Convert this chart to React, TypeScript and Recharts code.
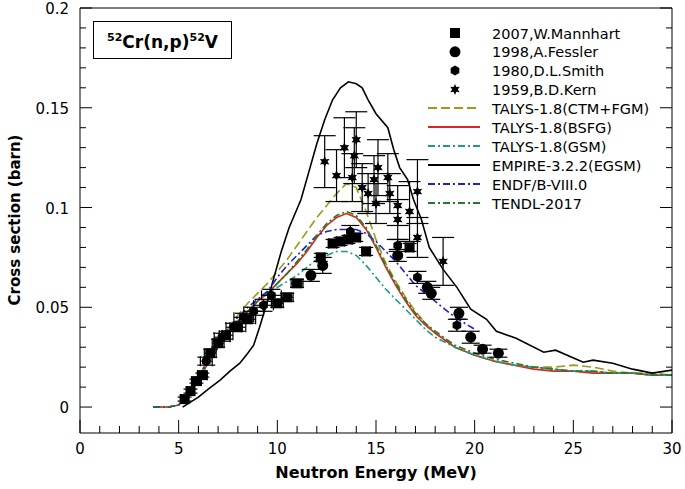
import { ComposedChart, Line, Scatter, XAxis, YAxis, ErrorBar } from "recharts";

// ---- evaluated curves ----
const ctmE = [3.7, 4.5, 5.0, 5.3, 5.6, 6.0, 6.5, 7.0, 7.5, 8.0, 8.5, 9.0, 9.5, 10.0, 10.5, 11.0, 11.5, 12.0, 12.5, 13.0, 13.5, 14.0, 14.5, 15.0, 15.5, 16.0, 16.5, 17.0, 17.5, 18.0, 19.0, 20.0, 21.0, 22.0, 23.0, 24.0, 25.0, 26.0, 27.0, 28.0, 29.0, 30.0];
const ctmXS = [0, 0, 0.001, 0.004, 0.009, 0.015, 0.024, 0.032, 0.039, 0.046, 0.052, 0.057, 0.062, 0.068, 0.074, 0.081, 0.088, 0.095, 0.101, 0.107, 0.112, 0.110, 0.098, 0.084, 0.072, 0.063, 0.055, 0.048, 0.042, 0.037, 0.030, 0.026, 0.023, 0.021, 0.020, 0.020, 0.021, 0.020, 0.018, 0.017, 0.017, 0.016];

const bsfgE = [3.7, 4.5, 5.0, 5.3, 5.6, 6.0, 6.5, 7.0, 7.5, 8.0, 8.5, 9.0, 9.5, 10.0, 10.5, 11.0, 11.5, 12.0, 12.5, 13.0, 13.5, 14.0, 14.5, 15.0, 15.5, 16.0, 16.5, 17.0, 17.5, 18.0, 19.0, 20.0, 21.0, 22.0, 23.0, 24.0, 25.0, 26.0, 27.0, 28.0, 29.0, 30.0];
const bsfgXS = [0, 0, 0.001, 0.004, 0.008, 0.014, 0.022, 0.030, 0.037, 0.043, 0.048, 0.053, 0.057, 0.062, 0.067, 0.072, 0.078, 0.085, 0.091, 0.095, 0.097, 0.095, 0.089, 0.080, 0.070, 0.061, 0.053, 0.046, 0.041, 0.037, 0.030, 0.026, 0.023, 0.021, 0.019, 0.018, 0.018, 0.017, 0.017, 0.017, 0.016, 0.016];

const gsmE = [3.7, 4.5, 5.0, 5.3, 5.6, 6.0, 6.5, 7.0, 7.5, 8.0, 8.5, 9.0, 9.5, 10.0, 10.5, 11.0, 11.5, 12.0, 12.5, 13.0, 13.5, 14.0, 14.5, 15.0, 15.5, 16.0, 16.5, 17.0, 17.5, 18.0, 19.0, 20.0, 21.0, 22.0, 23.0, 24.0, 25.0, 26.0, 27.0, 28.0, 29.0, 30.0];
const gsmXS = [0, 0, 0.001, 0.004, 0.008, 0.014, 0.022, 0.030, 0.037, 0.043, 0.048, 0.053, 0.057, 0.060, 0.063, 0.066, 0.070, 0.074, 0.076, 0.078, 0.078, 0.076, 0.071, 0.065, 0.059, 0.054, 0.049, 0.044, 0.039, 0.035, 0.030, 0.026, 0.023, 0.021, 0.020, 0.019, 0.018, 0.018, 0.017, 0.017, 0.016, 0.016];

const empireE = [5.2, 5.6, 6.0, 6.5, 7.1, 7.6, 8.1, 8.5, 8.8, 9.1, 9.5, 9.8, 10.2, 10.6, 11.2, 11.6, 12.0, 12.4, 12.8, 13.2, 13.6, 14.0, 14.3, 14.6, 15.0, 15.6, 15.9, 16.2, 16.6, 16.9, 17.3, 17.7, 18.4, 19.1, 19.8, 20.6, 21.1, 22.1, 23.5, 24.1, 25.5, 26.0, 27.0, 28.0, 29.0, 30.0];
const empireXS = [0, 0.0025, 0.005, 0.009, 0.0135, 0.018, 0.022, 0.027, 0.031, 0.040, 0.053, 0.064, 0.078, 0.090, 0.104, 0.118, 0.132, 0.144, 0.154, 0.160, 0.163, 0.162, 0.160, 0.154, 0.147, 0.140, 0.129, 0.120, 0.114, 0.104, 0.094, 0.080, 0.069, 0.060, 0.049, 0.044, 0.038, 0.0345, 0.0275, 0.0285, 0.0225, 0.0235, 0.022, 0.019, 0.017, 0.0185];

const endfE = [3.7, 4.5, 5.0, 5.3, 5.6, 6.0, 6.5, 7.0, 7.5, 8.0, 8.5, 9.0, 9.5, 10.0, 10.5, 11.0, 11.5, 12.0, 12.5, 13.0, 13.5, 14.0, 14.5, 15.0, 15.5, 16.0, 16.5, 17.0, 17.5, 18.0, 18.5, 19.0, 19.5, 20.0];
const endfXS = [0, 0, 0.001, 0.004, 0.008, 0.015, 0.024, 0.032, 0.039, 0.045, 0.050, 0.054, 0.058, 0.065, 0.071, 0.076, 0.081, 0.086, 0.088, 0.089, 0.089, 0.089, 0.087, 0.083, 0.078, 0.073, 0.067, 0.061, 0.057, 0.053, 0.049, 0.045, 0.042, 0.039];

const tendlE = [3.7, 4.5, 5.0, 5.3, 5.6, 6.0, 6.5, 7.0, 7.5, 8.0, 8.5, 9.0, 9.5, 10.0, 10.5, 11.0, 11.5, 12.0, 12.5, 13.0, 13.5, 14.0, 14.5, 15.0, 15.5, 16.0, 16.5, 17.0, 17.5, 18.0, 19.0, 20.0, 21.0, 22.0, 23.0, 24.0, 25.0, 26.0, 27.0, 28.0, 29.0, 30.0];
const tendlXS = [0, 0, 0.001, 0.004, 0.008, 0.014, 0.022, 0.030, 0.037, 0.043, 0.048, 0.053, 0.057, 0.062, 0.067, 0.073, 0.079, 0.086, 0.092, 0.096, 0.098, 0.096, 0.090, 0.081, 0.071, 0.062, 0.054, 0.047, 0.042, 0.038, 0.031, 0.027, 0.024, 0.022, 0.020, 0.019, 0.018, 0.018, 0.017, 0.017, 0.016, 0.016];

// ---- measurements ----
const mannhartE = [5.3, 5.6, 5.9, 6.2, 6.6, 7.0, 7.4, 8.0, 8.5, 10.0, 10.5, 11.0, 12.2, 12.8, 13.2, 13.6, 14.0, 14.5, 16.7];
const mannhartXS = [0.004, 0.008, 0.013, 0.016, 0.027, 0.032, 0.036, 0.040, 0.044, 0.052, 0.055, 0.062, 0.075, 0.082, 0.083, 0.084, 0.085, 0.078, 0.080];
const mannhartDE = [0.2, 0.2, 0.25, 0.25, 0.3, 0.3, 0.35, 0.4, 0.4, 0.3, 0.3, 0.3, 0.2, 0.2, 0.2, 0.2, 0.2, 0.2, 0.2];
const mannhartDXS = [0.001, 0.001, 0.001, 0.001, 0.002, 0.002, 0.002, 0.002, 0.002, 0.002, 0.002, 0.002, 0.002, 0.002, 0.002, 0.002, 0.002, 0.002, 0.002];

const fesslerE = [11.7, 12.3, 16.1, 17.6, 17.8, 19.2, 19.8, 20.4, 21.2];
const fesslerXS = [0.066, 0.071, 0.076, 0.060, 0.057, 0.047, 0.035, 0.029, 0.027];
const fesslerDXS = [0.003, 0.004, 0.003, 0.003, 0.003, 0.003, 0.003, 0.002, 0.002];

const smithE = [6.4, 7.2, 7.8, 8.3, 8.8, 9.3, 9.7, 13.7, 16.1, 17.1, 19.1];
const smithXS = [0.023, 0.035, 0.040, 0.045, 0.048, 0.051, 0.056, 0.088, 0.081, 0.065, 0.041];
const smithDE = [0.3, 0.4, 0.4, 0.5, 0.5, 0.5, 0.5, 0, 0, 0, 0];
const smithDXS = [0.002, 0.002, 0.002, 0.002, 0.002, 0.003, 0.003, 0.003, 0.003, 0.003, 0.003];

const kernE = [12.4, 13.0, 13.4, 13.8, 13.9, 14.0, 14.3, 14.6, 14.9, 15.0, 15.1, 15.6, 15.7, 16.1, 16.1, 16.7, 17.1, 17.1, 18.4];
const kernXS = [0.123, 0.116, 0.130, 0.115, 0.126, 0.134, 0.110, 0.107, 0.114, 0.102, 0.120, 0.115, 0.107, 0.101, 0.094, 0.098, 0.108, 0.085, 0.073];
const kernDXS = [0.013, 0.013, 0.015, 0.012, 0.014, 0.014, 0.012, 0.010, 0.012, 0.010, 0.014, 0.012, 0.010, 0.010, 0.010, 0.015, 0.016, 0.010, 0.012];

const xTicks = [0, 1, 2, 3, 4, 5, 6, 7, 8, 9, 10, 11, 12, 13, 14, 15, 16, 17, 18, 19, 20, 21, 22, 23, 24, 25, 26, 27, 28, 29, 30];
const yTicks = [0, 0.01, 0.02, 0.03, 0.04, 0.05, 0.06, 0.07, 0.08, 0.09, 0.1, 0.11, 0.12, 0.13, 0.14, 0.15, 0.16, 0.17, 0.18, 0.19, 0.2];

const FONT = "'DejaVu Sans', sans-serif";

const curve = (e: number[], s: number[]) => e.map((x, i) => ({ x, y: s[i] }));
const points = (e: number[], s: number[], ds: number[], de?: number[]) =>
  e.map((x, i) => ({ x, y: s[i], ey: ds[i], ex: de ? de[i] : 0 }));

const isMajorX = (v: number) => v % 5 === 0;
const isMajorY = (v: number) => Math.abs(v * 20 - Math.round(v * 20)) < 1e-6;

// ---- marker shapes ----
const square = (cx: number, cy: number) => <rect x={cx - 5} y={cy - 5} width={10} height={10} fill="#000" />;
const circle = (cx: number, cy: number) => <circle cx={cx} cy={cy} r={5.5} fill="#000" />;
const hexagon = (cx: number, cy: number) => {
  const pts = [0, 1, 2, 3, 4, 5].map((k) => {
    const a = (Math.PI / 3) * k + Math.PI / 6;
    return `${cx + 5 * Math.cos(a)},${cy + 5 * Math.sin(a)}`;
  });
  return <polygon points={pts.join(" ")} fill="#000" />;
};
const star = (cx: number, cy: number) => {
  const pts = [];
  for (let k = 0; k < 12; k++) {
    const r = k % 2 === 0 ? 5.5 : 2.8;
    const a = (Math.PI / 6) * k - Math.PI / 2;
    pts.push(`${cx + r * Math.cos(a)},${cy + r * Math.sin(a)}`);
  }
  return <polygon points={pts.join(" ")} fill="#000" />;
};

const shapeOf = (fn: (cx: number, cy: number) => JSX.Element) => (p: any) => fn(p.cx, p.cy);

// ---- inward ticks ----
const BottomTick = (p: any) => {
  const v = p.payload.value;
  const major = isMajorX(v);
  return (
    <g>
      <line x1={p.x} x2={p.x} y1={p.y} y2={p.y - (major ? 13 : 7)} stroke="#000" />
      {major && (
        <text x={p.x} y={p.y + 21} textAnchor="middle" fontSize={15} fontFamily={FONT} fill="#000">
          {v}
        </text>
      )}
    </g>
  );
};
const TopTick = (p: any) => {
  const major = isMajorX(p.payload.value);
  return <line x1={p.x} x2={p.x} y1={p.y} y2={p.y + (major ? 13 : 7)} stroke="#000" />;
};
const LeftTick = (p: any) => {
  const v = p.payload.value;
  const major = isMajorY(v);
  return (
    <g>
      <line x1={p.x} x2={p.x + (major ? 12 : 6)} y1={p.y} y2={p.y} stroke="#000" />
      {major && (
        <text x={p.x - 11} y={p.y + 6} textAnchor="end" fontSize={15} fontFamily={FONT} fill="#000">
          {String(Math.round(v * 100) / 100)}
        </text>
      )}
    </g>
  );
};
const RightTick = (p: any) => {
  const major = isMajorY(p.payload.value);
  return <line x1={p.x} x2={p.x - (major ? 12 : 6)} y1={p.y} y2={p.y} stroke="#000" />;
};

const lineSeries = [
  { name: "TALYS-1.8(CTM+FGM)", e: ctmE, s: ctmXS, color: "#9c9a1c", dash: "9 4" },
  { name: "TALYS-1.8(BSFG)", e: bsfgE, s: bsfgXS, color: "#d42a1e", dash: undefined },
  { name: "TALYS-1.8(GSM)", e: gsmE, s: gsmXS, color: "#1f9a88", dash: "7 3 2 3" },
  { name: "EMPIRE-3.2.2(EGSM)", e: empireE, s: empireXS, color: "#000000", dash: undefined },
  { name: "ENDF/B-VIII.0", e: endfE, s: endfXS, color: "#1b22cc", dash: "7 3 2 3" },
  { name: "TENDL-2017", e: tendlE, s: tendlXS, color: "#237a2a", dash: "7 3 2 3" },
];

const markerSeries = [
  { name: "2007,W.Mannhart", data: points(mannhartE, mannhartXS, mannhartDXS, mannhartDE), fn: square, cap: 7 },
  { name: "1998,A.Fessler", data: points(fesslerE, fesslerXS, fesslerDXS), fn: circle, cap: 9 },
  { name: "1980,D.L.Smith", data: points(smithE, smithXS, smithDXS, smithDE), fn: hexagon, cap: 9 },
  { name: "1959,B.D.Kern", data: points(kernE, kernXS, kernDXS), fn: star, cap: 11 },
];

const LegendBox = () => (
  <svg width={685} height={489} style={{ position: "absolute", left: 0, top: 0, pointerEvents: "none" }}>
    {markerSeries.map((m, i) => {
      const y = 33 + i * 18.8;
      return (
        <g key={m.name}>
          {m.fn(455, y)}
          <text x={492} y={y + 5.5} fontSize={14.5} fontFamily={FONT} fill="#000">
            {m.name}
          </text>
        </g>
      );
    })}
    {lineSeries.map((l, i) => {
      const y = 108 + i * 19;
      return (
        <g key={l.name}>
          <line x1={428} x2={480} y1={y} y2={y} stroke={l.color} strokeWidth={2} strokeDasharray={l.dash} />
          <text x={492} y={y + 5.5} fontSize={14.5} fontFamily={FONT} fill="#000">
            {l.name}
          </text>
        </g>
      );
    })}
  </svg>
);

const TitleBox = () => (
  <div
    style={{
      position: "absolute",
      left: 93,
      top: 21,
      width: 137,
      height: 36,
      border: "1px solid #000",
      background: "#fff",
      display: "flex",
      alignItems: "center",
      justifyContent: "center",
      fontFamily: FONT,
      fontWeight: 700,
      fontSize: 17,
      lineHeight: "20px",
    }}
  >
    <span>
      <sup style={{ fontSize: 11 }}>52</sup>Cr(n,p)<sup style={{ fontSize: 11 }}>52</sup>V
    </span>
  </div>
);

export default function App() {
  return (
    <div style={{ position: "absolute", left: 0, top: 0, width: 685, height: 489, background: "#fff" }}>
      <ComposedChart width={685} height={489} margin={{ top: 4, right: 8, bottom: 26, left: 8 }}>
        <XAxis
          type="number"
          dataKey="x"
          domain={[0, 30]}
          ticks={xTicks}
          interval={0}
          tickSize={0}
          tickMargin={0}
          tick={BottomTick}
          height={30}
          stroke="#000"
          allowDataOverflow
          label={{
            content: () => (
              <text x={376} y={478} textAnchor="middle" fontSize={16} fontWeight={700} fontFamily={FONT} fill="#000">
                Neutron Energy (MeV)
              </text>
            ),
          }}
        />
        <XAxis
          xAxisId="top"
          orientation="top"
          type="number"
          domain={[0, 30]}
          ticks={xTicks}
          interval={0}
          tickSize={0}
          tickMargin={0}
          tick={TopTick}
          height={4}
          stroke="#000"
          allowDataOverflow
        />
        <YAxis
          type="number"
          domain={[-0.013, 0.2]}
          ticks={yTicks}
          interval={0}
          tickSize={0}
          tickMargin={0}
          tick={LeftTick}
          width={72}
          stroke="#000"
          allowDataOverflow
          label={{
            content: () => (
              <text
                x={20}
                y={220}
                transform="rotate(-90 20 220)"
                textAnchor="middle"
                fontSize={15}
                fontWeight={700}
                fontFamily={FONT}
                fill="#000"
              >
                Cross section (barn)
              </text>
            ),
          }}
        />
        <YAxis
          yAxisId="right"
          orientation="right"
          type="number"
          domain={[-0.013, 0.2]}
          ticks={yTicks}
          interval={0}
          tickSize={0}
          tickMargin={0}
          tick={RightTick}
          width={5}
          stroke="#000"
          allowDataOverflow
        />
        {lineSeries.map((l) => (
          <Line
            key={l.name}
            data={curve(l.e, l.s)}
            dataKey="y"
            name={l.name}
            type="linear"
            stroke={l.color}
            strokeWidth={1.6}
            strokeDasharray={l.dash}
            dot={false}
            activeDot={false}
            isAnimationActive={false}
          />
        ))}
        {markerSeries.map((m) => (
          <Scatter
            key={m.name}
            name={m.name}
            data={m.data}
            dataKey="y"
            shape={shapeOf(m.fn)}
            isAnimationActive={false}
          >
            <ErrorBar dataKey="ey" direction="y" width={m.cap} stroke="#000" strokeWidth={1.2} />
            <ErrorBar dataKey="ex" direction="x" width={5} stroke="#000" strokeWidth={1.2} />
          </Scatter>
        ))}
      </ComposedChart>
      <TitleBox />
      <LegendBox />
    </div>
  );
}
